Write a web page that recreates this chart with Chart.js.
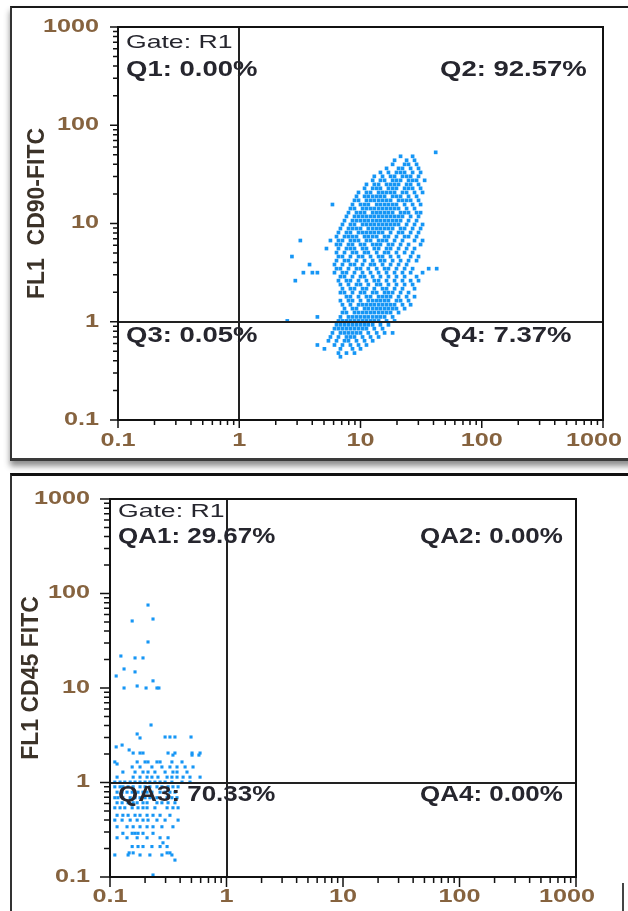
<!DOCTYPE html>
<html>
<head>
<meta charset="utf-8">
<script src="https://cdn.jsdelivr.net/npm/chart.js@4.4.0/dist/chart.umd.min.js"></script>
<style>
  html, body { margin: 0; padding: 0; background: #fff; }
  body { width: 628px; height: 911px; position: relative; overflow: hidden; }
  .panel { position: absolute; box-sizing: border-box; }
  #panelTop { left: 10px; top: 6px; width: 640px; height: 455px; border-left: 2px solid #333; border-top: 2px solid #1a1a1a; border-bottom: 3px solid #3a3a3a; box-shadow: 0 5px 6px rgba(0,0,0,0.45); }
  #panelBottom { left: 10px; top: 473px; width: 640px; height: 460px; border-left: 2px solid #333; border-top: 3px solid #111; }
  #edge { position: absolute; left: 622px; top: 883px; width: 2px; height: 28px; background: #444; }
  canvas { position: absolute; left: 0; }
  #cd90 { top: 0; }
  #cd45 { top: 460px; }
</style>
</head>
<body>
<div class="panel" id="panelTop"></div>
<div class="panel" id="panelBottom"></div>
<div id="edge"></div>
<canvas id="cd90" width="628" height="460"></canvas>
<canvas id="cd45" width="628" height="451"></canvas>
<script>
// axis ticks (log decades)
const tickValues = [0.1, 1, 10, 100, 1000];
const tickLabels = ['0.1', '1', '10', '100', '1000'];
const minorTickValues = [0.2, 0.3, 0.4, 0.5, 0.6, 0.7, 0.8, 0.9,
                         2, 3, 4, 5, 6, 7, 8, 9,
                         20, 30, 40, 50, 60, 70, 80, 90,
                         200, 300, 400, 500, 600, 700, 800, 900];

// quadrant gates and stats
const gateName = 'Gate: R1';
const gateCD90 = [1, 1];
const gateCD45 = [1, 1];
const quadCD90 = ['Q1: 0.00%', 'Q2: 92.57%', 'Q3: 0.05%', 'Q4: 7.37%'];
const quadCD45 = ['QA1: 29.67%', 'QA2: 0.00%', 'QA3: 70.33%', 'QA4: 0.00%'];
const titleCD90 = 'FL1  CD90-FITC';
const titleCD45 = 'FL1 CD45 FITC';

// events, one row per FL1 level: [FL1, [FSC values...]]
const cd90Rows = [
  [53.0, [41.7]],
  [48.3, [21.4, 26.9]],
  [44.0, [19.1, 24.0, 27.9]],
  [40.0, [18.4, 23.1, 24.9, 29.0]],
  [36.4, [16.4, 20.6, 22.2, 25.9, 30.1]],
  [33.1, [14.6, 17.0, 19.8, 21.4, 23.1, 26.9, 31.3]],
  [30.2, [13.0, 15.2, 17.7, 19.1, 22.2, 24.0, 25.9, 30.1]],
  [27.5, [12.6, 14.6, 15.8, 18.4, 19.8, 21.4, 24.9, 26.9, 29.0, 33.8]],
  [25.0, [11.2, 13.0, 14.1, 16.4, 17.7, 19.1, 20.6, 24.0, 25.9, 30.1]],
  [22.8, [10.8, 12.6, 13.6, 14.6, 17.0, 18.4, 19.8, 23.1, 24.9, 26.9, 31.3]],
  [20.7, [9.63, 11.2, 12.1, 14.1, 15.2, 16.4, 17.7, 19.1, 22.2, 24.0, 27.9, 32.5]],
  [18.9, [9.27, 10.8, 11.6, 12.6, 13.6, 14.6, 15.8, 18.4, 19.8, 21.4, 24.9, 29.0]],
  [17.2, [8.92, 9.63, 11.2, 12.1, 13.0, 14.1, 15.2, 16.4, 17.7, 20.6, 22.2, 24.0, 25.9, 30.1]],
  [15.6, [5.87, 8.59, 10.0, 10.8, 11.6, 13.6, 14.6, 15.8, 17.0, 18.4, 19.8, 23.1, 26.9, 31.3]],
  [14.2, [8.26, 8.92, 10.4, 11.2, 12.1, 13.0, 14.1, 15.2, 16.4, 17.7, 19.1, 20.6, 24.0, 27.9]],
  [12.9, [7.96, 9.27, 10.0, 10.8, 12.6, 13.6, 14.6, 15.8, 17.0, 18.4, 21.4, 23.1, 24.9, 29.0, 31.3]],
  [11.8, [7.66, 8.92, 9.63, 10.4, 11.2, 12.1, 13.0, 14.1, 15.2, 16.4, 17.7, 19.1, 20.6, 22.2, 25.9, 30.1]],
  [10.7, [7.38, 8.59, 9.27, 10.0, 10.8, 11.6, 12.6, 13.6, 14.6, 15.8, 17.0, 18.4, 19.8, 21.4, 24.9, 29.0]],
  [9.77, [7.10, 8.26, 8.92, 10.4, 11.2, 12.1, 13.0, 14.1, 15.2, 16.4, 17.7, 19.1, 20.6, 24.0, 27.9, 32.5]],
  [8.89, [6.83, 7.96, 8.59, 9.27, 10.0, 11.6, 12.6, 13.6, 14.6, 15.8, 17.0, 18.4, 21.4, 23.1, 26.9, 31.3]],
  [8.09, [6.58, 7.66, 8.26, 9.63, 10.4, 11.2, 12.1, 13.0, 14.1, 15.2, 17.7, 20.6, 22.2, 25.9, 30.1]],
  [7.36, [6.34, 7.38, 7.96, 8.59, 9.27, 10.8, 11.6, 12.6, 13.6, 15.8, 17.0, 19.8, 23.1, 24.9, 29.0]],
  [6.71, [3.19, 5.65, 6.58, 7.10, 8.26, 8.92, 9.63, 11.2, 12.1, 14.1, 15.2, 16.4, 19.1, 22.2, 27.9, 32.5]],
  [6.11, [6.34, 6.83, 7.96, 8.59, 10.0, 10.8, 12.6, 13.6, 14.6, 17.0, 18.4, 21.4, 24.9, 31.3]],
  [5.56, [5.24, 6.58, 7.66, 8.26, 8.92, 10.4, 11.2, 13.0, 14.1, 16.4, 17.7, 20.6, 24.0, 27.9]],
  [5.06, [6.34, 7.38, 8.59, 9.27, 10.8, 11.6, 13.6, 15.8, 17.0, 19.8, 23.1, 26.9]],
  [4.61, [2.72, 6.58, 7.10, 8.26, 9.63, 10.4, 12.1, 14.1, 15.2, 17.7, 20.6, 25.9, 30.1]],
  [4.19, [6.34, 7.38, 7.96, 9.27, 10.8, 12.6, 14.6, 15.8, 18.4, 21.4, 24.9, 29.0]],
  [3.82, [3.80, 6.10, 7.10, 8.26, 8.92, 10.4, 12.1, 13.0, 15.2, 17.7, 20.6, 24.0]],
  [3.47, [6.34, 6.83, 7.96, 9.27, 10.0, 11.6, 13.6, 15.8, 17.0, 19.8, 23.1, 26.9, 36.5, 42.5]],
  [3.16, [3.38, 4.01, 4.41, 6.10, 7.10, 7.66, 8.92, 10.4, 12.1, 14.1, 16.4, 19.1, 22.2, 25.9, 32.5]],
  [2.88, [6.83, 7.38, 8.59, 10.0, 10.8, 12.6, 14.6, 17.0, 19.8, 23.1, 29.0]],
  [2.62, [2.90, 6.58, 7.66, 8.26, 9.63, 11.2, 13.0, 14.1, 16.4, 19.1, 22.2, 25.9, 30.1]],
  [2.39, [6.83, 7.96, 9.27, 10.0, 11.6, 13.6, 14.6, 17.0, 19.8, 23.1, 26.9]],
  [2.17, [7.10, 8.26, 8.92, 10.4, 11.2, 13.0, 15.2, 16.4, 19.1, 22.2, 27.9]],
  [1.98, [6.83, 7.38, 8.59, 10.0, 10.8, 12.6, 13.6, 15.8, 17.0, 18.4, 21.4, 24.9]],
  [1.80, [7.66, 8.26, 9.63, 11.2, 12.1, 14.1, 15.2, 16.4, 17.7, 20.6, 24.0, 27.9]],
  [1.64, [6.83, 7.96, 8.59, 10.0, 11.6, 12.6, 13.6, 14.6, 15.8, 17.0, 19.8, 21.4, 24.9]],
  [1.49, [7.10, 8.26, 9.63, 10.4, 11.2, 12.1, 13.0, 14.1, 15.2, 16.4, 17.7, 19.1, 22.2, 25.9]],
  [1.36, [7.38, 8.59, 9.27, 10.8, 11.6, 12.6, 13.6, 14.6, 15.8, 17.0, 18.4, 19.8, 23.1]],
  [1.24, [7.10, 7.66, 8.92, 9.63, 10.4, 11.2, 12.1, 13.0, 14.1, 15.2, 16.4, 17.7, 20.6]],
  [1.12, [4.41, 6.83, 7.96, 8.59, 9.27, 10.0, 10.8, 11.6, 12.6, 13.6, 14.6, 15.8, 18.4]],
  [1.02, [2.49, 6.58, 7.10, 7.66, 8.26, 8.92, 9.63, 10.4, 11.2, 12.1, 13.0, 14.1, 16.4, 19.1]],
  [0.93, [6.34, 6.83, 7.38, 7.96, 8.59, 9.27, 10.0, 10.8, 11.6, 12.6, 14.6, 17.0]],
  [0.85, [6.10, 6.58, 7.10, 7.66, 8.26, 8.92, 9.63, 10.4, 11.2, 13.0, 15.2]],
  [0.77, [5.87, 6.83, 7.38, 7.96, 8.59, 9.27, 10.0, 11.6, 13.6, 15.8, 18.4]],
  [0.70, [5.65, 6.58, 7.66, 8.26, 8.92, 10.4, 12.1, 14.1]],
  [0.64, [5.44, 6.34, 7.38, 7.96, 9.27, 10.8, 12.6]],
  [0.58, [4.41, 6.10, 7.10, 8.26, 9.63, 11.2]],
  [0.53, [5.04, 6.83, 8.59, 10.0]],
  [0.48, [6.58, 7.66, 8.92]],
  [0.44, [6.83]]
];

const cd45Rows = [
  [75.5, [0.212]],
  [53.7, [0.234]],
  [51.2, [0.155]],
  [30.7, [0.212]],
  [21.8, [0.124]],
  [20.8, [0.164, 0.192]],
  [15.9, [0.132]],
  [14.8, [0.164]],
  [13.4, [0.113]],
  [11.9, [0.234]],
  [10.5, [0.171]],
  [10.0, [0.132, 0.204, 0.253, 0.263]],
  [4.06, [0.225]],
  [3.26, [0.171]],
  [3.03, [0.297, 0.327, 0.361, 0.496]],
  [2.96, [0.181]],
  [2.49, [0.127]],
  [2.38, [0.113]],
  [2.21, [0.146]],
  [2.05, [0.158, 0.181, 0.192, 0.315, 0.361, 0.506, 0.593]],
  [1.95, [0.347, 0.506, 0.580]],
  [1.65, [0.110, 0.171, 0.200, 0.212, 0.253, 0.269, 0.340, 0.415]],
  [1.57, [0.115]],
  [1.46, [0.155, 0.181, 0.229, 0.279, 0.327, 0.376, 0.441, 0.516]],
  [1.29, [0.129, 0.164, 0.192, 0.212, 0.243, 0.297, 0.347, 0.376, 0.458]],
  [1.14, [0.115, 0.158, 0.181, 0.208, 0.229, 0.258, 0.309, 0.340, 0.376, 0.424, 0.486, 0.593]],
  [1.01, [0.110, 0.122, 0.134, 0.149, 0.164, 0.181, 0.200, 0.220, 0.243, 0.269, 0.297, 0.340, 0.415, 0.486]],
  [0.90, [0.110, 0.122, 0.129, 0.143, 0.158, 0.181, 0.200, 0.220, 0.253, 0.279, 0.315, 0.347, 0.384]],
  [0.79, [0.115, 0.127, 0.140, 0.155, 0.174, 0.192, 0.208, 0.229, 0.269, 0.297, 0.327, 0.361]],
  [0.69, [0.110, 0.117, 0.129, 0.149, 0.164, 0.181, 0.200, 0.220, 0.253, 0.309, 0.340, 0.376]],
  [0.61, [0.115, 0.127, 0.143, 0.158, 0.171, 0.192, 0.208, 0.253, 0.279, 0.315, 0.361]],
  [0.54, [0.110, 0.122, 0.134, 0.155, 0.174, 0.192, 0.208, 0.243, 0.309, 0.347, 0.384]],
  [0.45, [0.115, 0.129, 0.143, 0.164, 0.181, 0.208, 0.234, 0.269, 0.327]],
  [0.40, [0.110, 0.127, 0.149, 0.171, 0.192, 0.212, 0.253, 0.297, 0.384]],
  [0.34, [0.115, 0.140, 0.158, 0.181, 0.208, 0.234, 0.279, 0.347]],
  [0.29, [0.129, 0.155, 0.164, 0.174, 0.192, 0.234]],
  [0.26, [0.115, 0.140, 0.171, 0.208, 0.269, 0.315]],
  [0.23, [0.285]],
  [0.21, [0.155, 0.174, 0.192, 0.229, 0.269, 0.309]],
  [0.18, [0.146, 0.158, 0.309, 0.327]],
  [0.171, [0.110, 0.143, 0.181, 0.220, 0.279, 0.340]],
  [0.151, [0.361]],
  [0.105, [0.234]]
];

const DOT = 'rgb(22,150,245)';
const TICK_COLOR = '#86633f';
const TEXT_COLOR = '#26262e';
const FONT = '"Liberation Sans", Arial, sans-serif';

function rowsToPoints(rows) {
    const pts = [];
    rows.forEach(([fl1, fscList]) => fscList.forEach(fsc => pts.push({ x: fsc, y: fl1 })));
    return pts;
}

// text drawn stretched sideways like the scanned original
function wideText(ctx, str, x, y, sx, align) {
    ctx.save();
    ctx.translate(x, y);
    ctx.scale(sx, 1);
    ctx.textAlign = align || 'left';
    ctx.fillText(str, 0, 0);
    ctx.restore();
}

function makeDecor(cfg) {
    return {
        id: 'decor',
        afterDatasetsDraw(chart) {
            const ctx = chart.ctx;
            const xs = chart.scales.x, ys = chart.scales.y;
            const a = chart.chartArea;
            ctx.save();

            // quadrant gate lines
            const gx = Math.round(xs.getPixelForValue(cfg.gate[0]));
            const gy = Math.round(ys.getPixelForValue(cfg.gate[1]));
            ctx.strokeStyle = '#222';
            ctx.lineWidth = 2;
            ctx.beginPath();
            ctx.moveTo(gx, a.top); ctx.lineTo(gx, a.bottom);
            ctx.moveTo(a.left, gy); ctx.lineTo(a.right, gy);
            ctx.stroke();

            // plot frame
            ctx.strokeStyle = '#111';
            ctx.strokeRect(a.left, a.top, a.right - a.left, a.bottom - a.top);

            // ticks, pointing outward
            ctx.lineWidth = 1.5;
            ctx.beginPath();
            tickValues.forEach(v => {
                const px = xs.getPixelForValue(v), py = ys.getPixelForValue(v);
                ctx.moveTo(px, a.bottom); ctx.lineTo(px, a.bottom + cfg.major);
                ctx.moveTo(a.left, py); ctx.lineTo(a.left - cfg.major, py);
            });
            minorTickValues.forEach(v => {
                const px = xs.getPixelForValue(v), py = ys.getPixelForValue(v);
                ctx.moveTo(px, a.bottom); ctx.lineTo(px, a.bottom + cfg.minor);
                ctx.moveTo(a.left, py); ctx.lineTo(a.left - cfg.minor, py);
            });
            ctx.stroke();

            // tick labels (last x label pulled in from the edge, as in the original)
            ctx.fillStyle = TICK_COLOR;
            ctx.font = 'bold 18px ' + FONT;
            ctx.textBaseline = 'middle';
            tickValues.forEach((v, i) => {
                const shift = i === tickValues.length - 1 ? -9 : 0;
                wideText(ctx, tickLabels[i], a.left - cfg.yLabelGap, ys.getPixelForValue(v), 1.4, 'right');
                wideText(ctx, tickLabels[i], xs.getPixelForValue(v) + shift, a.bottom + cfg.xLabelGap, 1.4, 'center');
            });

            // axis title
            ctx.fillStyle = '#3b3228';
            ctx.font = 'bold 23px ' + FONT;
            ctx.save();
            ctx.translate(cfg.titleX, (a.top + a.bottom) / 2 + cfg.titleShift);
            ctx.rotate(-Math.PI / 2);
            ctx.textAlign = 'center';
            ctx.fillText(cfg.title, 0, 0);
            ctx.restore();

            // gate name and quadrant stats
            ctx.fillStyle = TEXT_COLOR;
            ctx.textBaseline = 'alphabetic';
            ctx.font = '19px ' + FONT;
            wideText(ctx, gateName, a.left + cfg.padL, a.top + cfg.gateBase, 1.4, 'left');
            ctx.font = 'bold 22px ' + FONT;
            const rightX = a.right - cfg.padR;
            wideText(ctx, cfg.quads[0], a.left + cfg.padL, a.top + cfg.quadBase, cfg.sx, 'left');
            wideText(ctx, cfg.quads[1], rightX, a.top + cfg.quadBase, cfg.sx, 'left');
            wideText(ctx, cfg.quads[2], a.left + cfg.padL, gy + cfg.lowBase, cfg.sx, 'left');
            wideText(ctx, cfg.quads[3], rightX, gy + cfg.lowBase, cfg.sx, 'left');

            ctx.restore();
        }
    };
}

function makeChart(id, rows, padding, dotRadius, cfg) {
    return new Chart(document.getElementById(id), {
        type: 'scatter',
        data: {
            datasets: [{
                data: rowsToPoints(rows),
                pointStyle: 'rect',
                pointRadius: dotRadius,
                borderWidth: 0,
                backgroundColor: DOT
            }]
        },
        options: {
            responsive: false,
            animation: false,
            events: [],
            layout: { padding: padding },
            plugins: { legend: { display: false }, tooltip: { enabled: false } },
            scales: {
                x: { type: 'logarithmic', min: 0.1, max: 1000, display: false },
                y: { type: 'logarithmic', min: 0.1, max: 1000, display: false }
            }
        },
        plugins: [makeDecor(cfg)]
    });
}

makeChart('cd90', cd90Rows, { left: 118, top: 27, right: 25, bottom: 40 }, 2.6, {
    gate: gateCD90, quads: quadCD90, title: titleCD90,
    major: 8, minor: 5, yLabelGap: 19, xLabelGap: 21,
    titleX: 38, titleShift: -10,
    padL: 8, padR: 163, gateBase: 21, quadBase: 49, lowBase: 20, sx: 1.25
});

makeChart('cd45', cd45Rows, { left: 110, top: 39, right: 52, bottom: 34 }, 2.2, {
    gate: gateCD45, quads: quadCD45, title: titleCD45,
    major: 10, minor: 6, yLabelGap: 20, xLabelGap: 20,
    titleX: 32, titleShift: -10,
    padL: 8, padR: 156, gateBase: 18, quadBase: 44, lowBase: 18, sx: 1.18
});
</script>
</body>
</html>
